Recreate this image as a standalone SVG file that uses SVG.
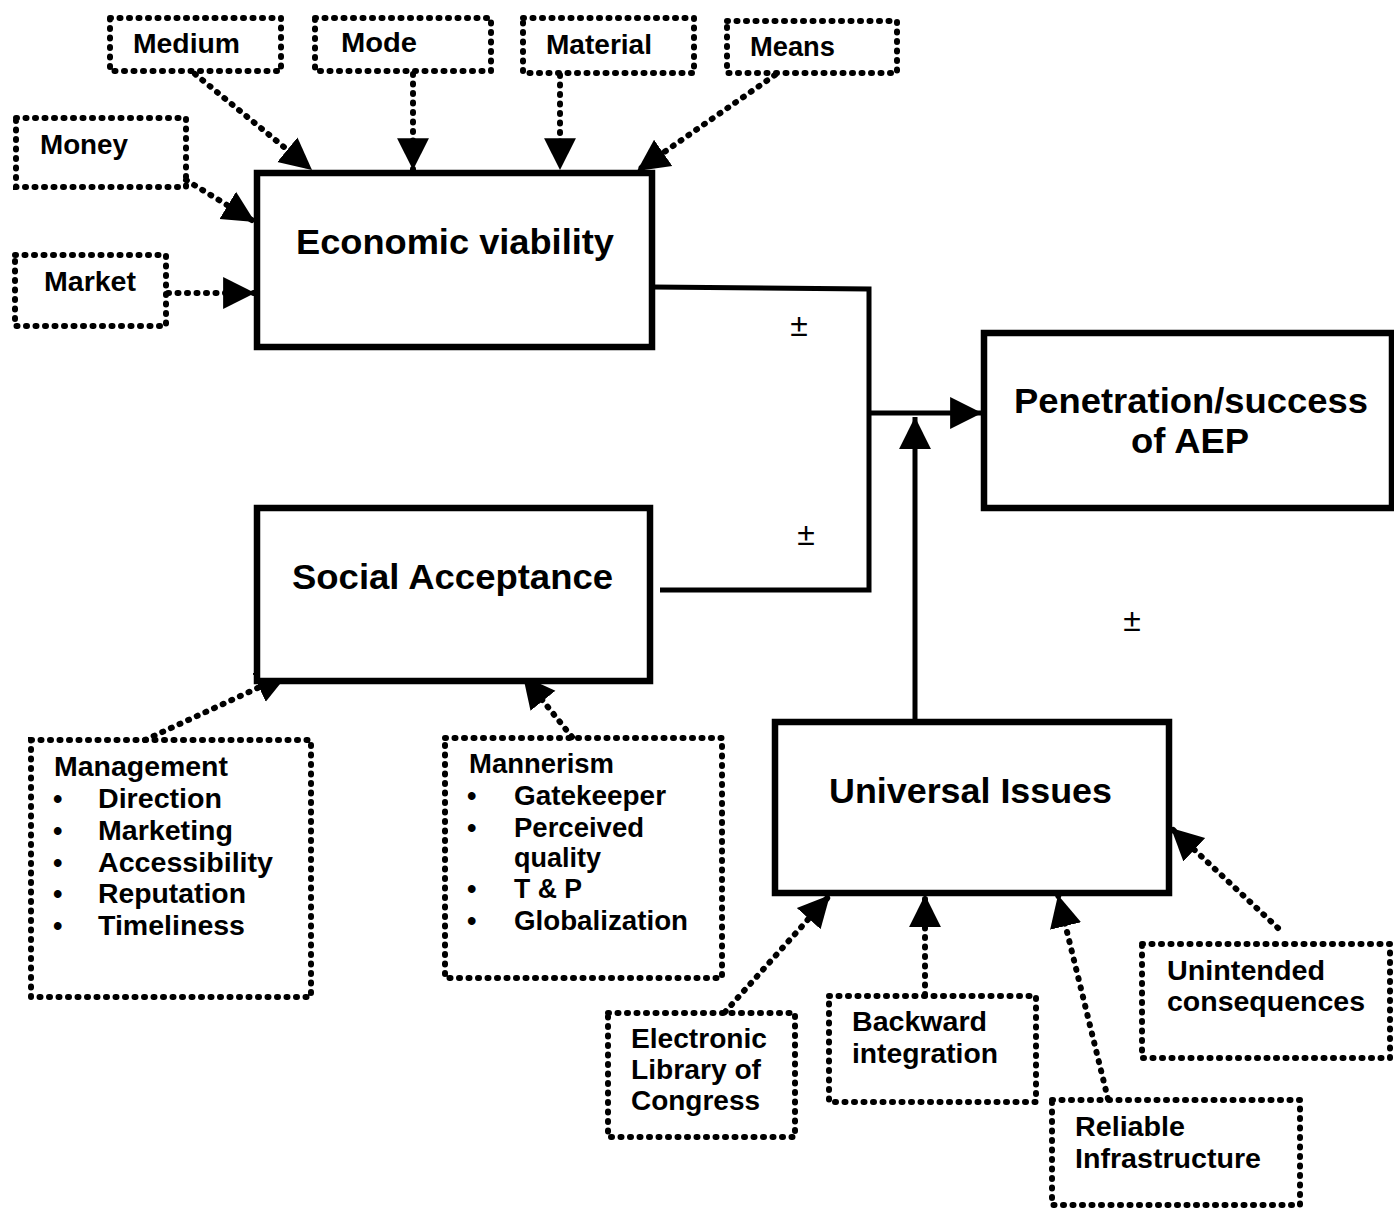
<svg xmlns="http://www.w3.org/2000/svg" width="1394" height="1209" viewBox="0 0 1394 1209">
<defs>
<style>
.solid{fill:#fff;stroke:#000;stroke-width:6.5}
.dot{fill:none;stroke:#000;stroke-width:6;stroke-dasharray:1 8.5;stroke-linecap:round}
.conn{fill:none;stroke:#000;stroke-width:5}
.dconn{fill:none;stroke:#000;stroke-width:6;stroke-dasharray:1 8.5;stroke-linecap:round}
text{font-family:"Liberation Sans",Arial,sans-serif;font-weight:bold;fill:#000}
.big{font-size:35px}
.sm{font-size:27px}
.pm{font-size:32px;font-weight:normal;text-anchor:middle}
</style>
<marker id="ah" markerUnits="userSpaceOnUse" markerWidth="34" markerHeight="34" refX="30" refY="15" orient="auto" viewBox="0 0 32 30">
<path d="M0,0 L30,15 L0,30 Z" fill="#000"/>
</marker>
</defs>

<g id="connectors">
<path class="conn" d="M652,287 L869,289 L869,590 L660,590"/>
<path class="conn" d="M869,413 L982,413" marker-end="url(#ah)"/>
<path class="conn" d="M915,720 L915,417" marker-end="url(#ah)"/>
<path class="dconn" d="M195,74 L312,170" marker-end="url(#ah)"/>
<path class="dconn" d="M413,74 L413,170" marker-end="url(#ah)"/>
<path class="dconn" d="M560,75 L560,170" marker-end="url(#ah)"/>
<path class="dconn" d="M775,75 L637,171" marker-end="url(#ah)"/>
<path class="dconn" d="M186,180 L255,222" marker-end="url(#ah)"/>
<path class="dconn" d="M168,293 L255,293" marker-end="url(#ah)"/>
<path class="dconn" d="M145,740 L288,674" marker-end="url(#ah)"/>
<path class="dconn" d="M572,737 L523,676" marker-end="url(#ah)"/>
<path class="dconn" d="M725,1012 L830,895" marker-end="url(#ah)"/>
<path class="dconn" d="M925,995 L925,895" marker-end="url(#ah)"/>
<path class="dconn" d="M1108,1099 L1058,895" marker-end="url(#ah)"/>
<path class="dconn" d="M1278,928 L1171,828" marker-end="url(#ah)"/>
</g>

<g id="pm-labels">
<text class="pm" x="799" y="336">±</text>
<text class="pm" x="806" y="545">±</text>
<text class="pm" x="1132" y="631">±</text>
</g>

<g id="economic-viability">
<rect class="solid" x="257" y="173" width="395" height="174"/>
<text class="big" x="296" y="254" textLength="318" lengthAdjust="spacingAndGlyphs">Economic viability</text>
</g>
<g id="penetration">
<rect class="solid" x="984" y="333" width="408" height="175"/>
<text class="big" x="1014" y="413" textLength="354" lengthAdjust="spacingAndGlyphs">Penetration/success</text>
<text class="big" x="1131" y="453" textLength="118" lengthAdjust="spacingAndGlyphs">of AEP</text>
</g>
<g id="social-acceptance">
<rect class="solid" x="257" y="508" width="393" height="173"/>
<text class="big" x="292" y="589" textLength="321" lengthAdjust="spacingAndGlyphs">Social Acceptance</text>
</g>
<g id="universal-issues">
<rect class="solid" x="775" y="722" width="394" height="171"/>
<text class="big" x="829" y="803" textLength="283" lengthAdjust="spacingAndGlyphs">Universal Issues</text>
</g>

<g id="medium">
<rect class="dot" x="110" y="18" width="171" height="53"/>
<text class="sm" x="133" y="53" textLength="107" lengthAdjust="spacingAndGlyphs">Medium</text>
</g>
<g id="mode">
<rect class="dot" x="315" y="18" width="176" height="53"/>
<text class="sm" x="341" y="52" textLength="76" lengthAdjust="spacingAndGlyphs">Mode</text>
</g>
<g id="material">
<rect class="dot" x="523" y="18" width="171" height="55"/>
<text class="sm" x="546" y="54" textLength="106" lengthAdjust="spacingAndGlyphs">Material</text>
</g>
<g id="means">
<rect class="dot" x="727" y="21" width="170" height="52"/>
<text class="sm" x="750" y="56" textLength="85" lengthAdjust="spacingAndGlyphs">Means</text>
</g>
<g id="money">
<rect class="dot" x="16" y="118" width="170" height="69"/>
<text class="sm" x="40" y="154" textLength="88" lengthAdjust="spacingAndGlyphs">Money</text>
</g>
<g id="market">
<rect class="dot" x="15" y="255" width="151" height="71"/>
<text class="sm" x="44" y="291" textLength="92" lengthAdjust="spacingAndGlyphs">Market</text>
</g>

<g id="management">
<rect class="dot" x="31" y="740" width="280" height="257"/>
<text class="sm" x="54" y="776" textLength="174" lengthAdjust="spacingAndGlyphs">Management</text>
<text class="sm" x="53" y="808">•</text><text class="sm" x="98" y="808" textLength="124" lengthAdjust="spacingAndGlyphs">Direction</text>
<text class="sm" x="53" y="840">•</text><text class="sm" x="98" y="840" textLength="135" lengthAdjust="spacingAndGlyphs">Marketing</text>
<text class="sm" x="53" y="872">•</text><text class="sm" x="98" y="872" textLength="175" lengthAdjust="spacingAndGlyphs">Accessibility</text>
<text class="sm" x="53" y="903">•</text><text class="sm" x="98" y="903" textLength="148" lengthAdjust="spacingAndGlyphs">Reputation</text>
<text class="sm" x="53" y="935">•</text><text class="sm" x="98" y="935" textLength="147" lengthAdjust="spacingAndGlyphs">Timeliness</text>
</g>

<g id="mannerism">
<rect class="dot" x="445" y="738" width="277" height="240"/>
<text class="sm" x="469" y="773" textLength="145" lengthAdjust="spacingAndGlyphs">Mannerism</text>
<text class="sm" x="467" y="805">•</text><text class="sm" x="514" y="805" textLength="152" lengthAdjust="spacingAndGlyphs">Gatekeeper</text>
<text class="sm" x="467" y="837">•</text><text class="sm" x="514" y="837" textLength="130" lengthAdjust="spacingAndGlyphs">Perceived</text>
<text class="sm" x="514" y="867" textLength="87" lengthAdjust="spacingAndGlyphs">quality</text>
<text class="sm" x="467" y="898">•</text><text class="sm" x="514" y="898" textLength="68" lengthAdjust="spacingAndGlyphs">T &amp; P</text>
<text class="sm" x="467" y="930">•</text><text class="sm" x="514" y="930" textLength="174" lengthAdjust="spacingAndGlyphs">Globalization</text>
</g>

<g id="electronic-library">
<rect class="dot" x="608" y="1013" width="187" height="124"/>
<text class="sm" x="631" y="1048" textLength="136" lengthAdjust="spacingAndGlyphs">Electronic</text>
<text class="sm" x="631" y="1079" textLength="130" lengthAdjust="spacingAndGlyphs">Library of</text>
<text class="sm" x="631" y="1110" textLength="129" lengthAdjust="spacingAndGlyphs">Congress</text>
</g>
<g id="backward-integration">
<rect class="dot" x="829" y="996" width="207" height="106"/>
<text class="sm" x="852" y="1031" textLength="135" lengthAdjust="spacingAndGlyphs">Backward</text>
<text class="sm" x="852" y="1063" textLength="146" lengthAdjust="spacingAndGlyphs">integration</text>
</g>
<g id="reliable-infrastructure">
<rect class="dot" x="1052" y="1100" width="248" height="105"/>
<text class="sm" x="1075" y="1136" textLength="110" lengthAdjust="spacingAndGlyphs">Reliable</text>
<text class="sm" x="1075" y="1168" textLength="186" lengthAdjust="spacingAndGlyphs">Infrastructure</text>
</g>
<g id="unintended-consequences">
<rect class="dot" x="1142" y="944" width="248" height="114"/>
<text class="sm" x="1167" y="980" textLength="158" lengthAdjust="spacingAndGlyphs">Unintended</text>
<text class="sm" x="1167" y="1011" textLength="198" lengthAdjust="spacingAndGlyphs">consequences</text>
</g>
</svg>
